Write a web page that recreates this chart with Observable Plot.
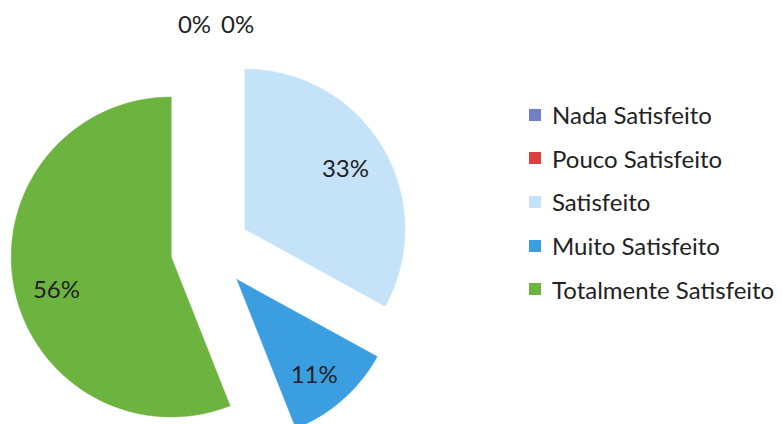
<!DOCTYPE html>
<html>
<head>
<meta charset="utf-8">
<script src="https://cdn.jsdelivr.net/npm/d3@7"></script>
<script src="https://cdn.jsdelivr.net/npm/@observablehq/plot@0.6"></script>
<style>
  html, body { margin: 0; padding: 0; background: #fff; }
  #wrap { position: relative; width: 782px; height: 424px; overflow: hidden; }
  #legend { position: absolute; left: 529px; top: 93px; font-family: Lato, "Open Sans", sans-serif; font-size: 24px; color: #222; }
  .item { display: flex; align-items: center; height: 43.6px; white-space: nowrap; }
  .sw { width: 12px; height: 12px; margin-right: 11px; flex: none; }
</style>
</head>
<body>
<div id="wrap"><div id="chart"></div><div id="legend"></div></div>
<script>
const categories = ["Nada Satisfeito", "Pouco Satisfeito", "Satisfeito", "Muito Satisfeito", "Totalmente Satisfeito"];
const values = [0, 0, 33, 11, 56];
const colors = ["#7180c4", "#d8413d", "#c4e3f8", "#3a9ee0", "#6cb33f"];

// Layout (not data)
const W = 782, H = 424, cx = 210, cy = 249, R = 160, explode = 0.25, labelR = 0.73;
const labelNudgeY = {"Totalmente Satisfeito": -0.07, "Muito Satisfeito": -0.05};

const pie = d3.pie().sort(null).value(d => d.value)(categories.map((c, i) => ({cat: c, value: values[i], color: colors[i]})));

const polys = [];
const labels = [];
pie.forEach((a, i) => {
  const mid = (a.startAngle + a.endAngle) / 2;
  const ox = explode * Math.sin(mid), oy = explode * Math.cos(mid);
  if (a.endAngle > a.startAngle) {
    const pts = [{x: ox, y: oy}];
    const n = 80;
    for (let k = 0; k <= n; k++) {
      const t = a.startAngle + (a.endAngle - a.startAngle) * k / n;
      pts.push({x: ox + Math.sin(t), y: oy + Math.cos(t)});
    }
    pts.push({x: ox, y: oy});
    polys.push({cat: a.data.cat, color: a.data.color, pts});
  }
  labels.push({cat: a.data.cat, value: a.data.value, mid});
});

const labelPos = labels.map((l, i) => {
  if (l.value === 0) {
    const off = i === 0 ? -0.10 : 0.17;
    return {x: off, y: 1.40, text: "0%"};
  }
  const d = explode + labelR;
  return {x: d * Math.sin(l.mid), y: d * Math.cos(l.mid) + (labelNudgeY[l.cat] || 0), text: l.value + "%"};
});

const chart = Plot.plot({
  width: W, height: H,
  margin: 0,
  x: {domain: [-cx / R, (W - cx) / R], axis: null},
  y: {domain: [-(H - cy) / R, cy / R], axis: null},
  marks: [
    ...polys.map(p => Plot.line(p.pts, {x: "x", y: "y", fill: p.color, stroke: p.color, strokeWidth: 0.5})),
    Plot.text(labelPos, {x: "x", y: "y", text: "text", fontSize: 24, fill: "#222", fontFamily: "Lato, 'Open Sans', sans-serif"})
  ]
});
document.getElementById("chart").appendChild(chart);

const lg = document.getElementById("legend");
categories.forEach((c, i) => {
  const d = document.createElement("div");
  d.className = "item";
  d.innerHTML = `<span class="sw" style="background:${colors[i]}"></span><span>${c}</span>`;
  lg.appendChild(d);
});
</script>
</body>
</html>
